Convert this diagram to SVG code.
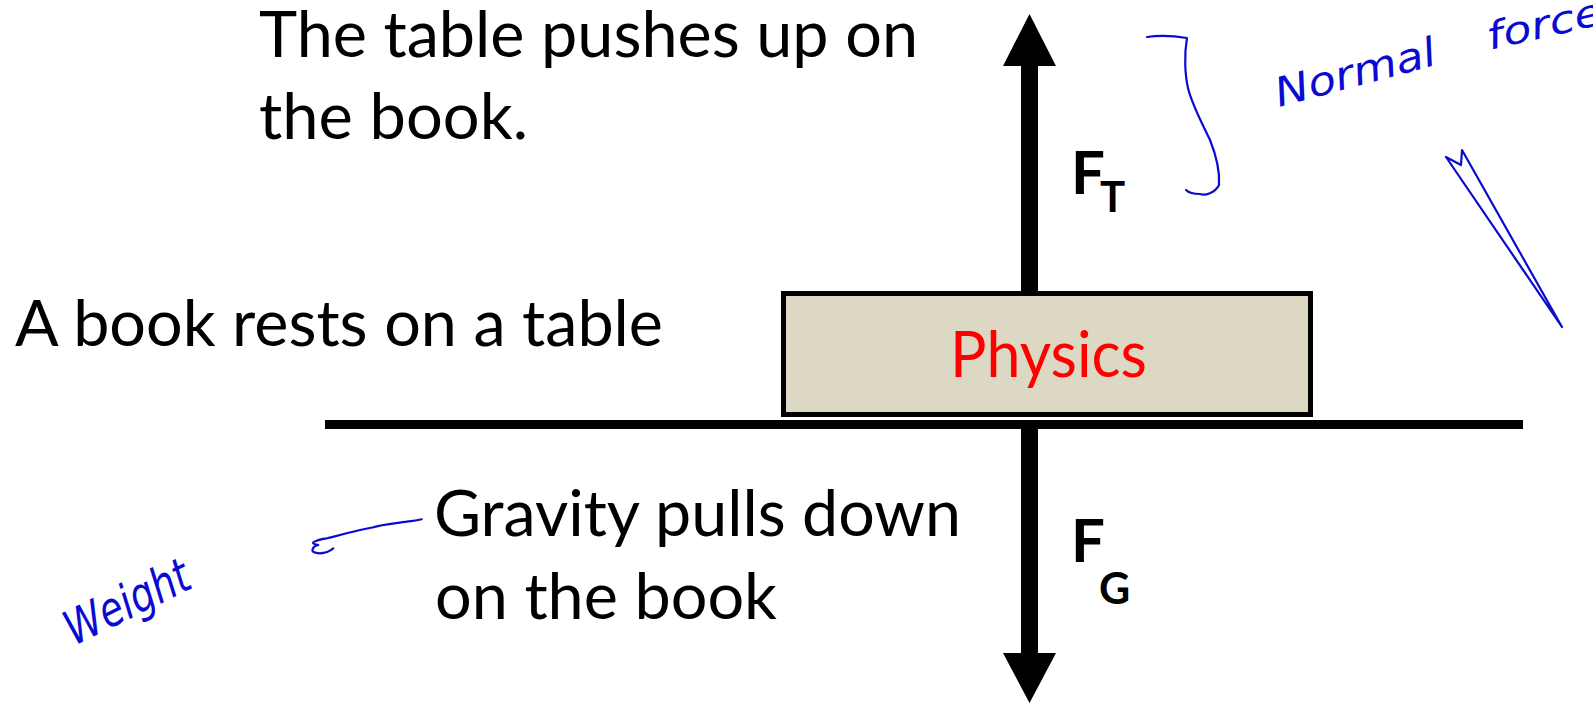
<svg xmlns="http://www.w3.org/2000/svg" width="1593" height="703" viewBox="0 0 1593 703">
  <style>
    .txt { font-family: Lato, "Liberation Sans", sans-serif; font-size: 63px; fill: #000; }
    .lbl { font-family: Lato, "Liberation Sans", sans-serif; font-weight: bold; fill: #000; }
    .hand { font-family: "DejaVu Sans", "Liberation Sans", sans-serif; font-style: italic; fill: #0a0ad2; }
    .ink { fill: none; stroke: #0a0ad2; stroke-width: 2.2; stroke-linecap: round; stroke-linejoin: round; }
    .arrow { fill: #000; }
  </style>
  <rect width="1593" height="703" fill="#fff"/>

  <g id="connectors">
    <polygon id="arrow-up" class="arrow" points="1021,295 1021,66 1003,66 1029.5,14 1056,66 1038,66 1038,295"/>
    <polygon id="arrow-down" class="arrow" points="1021,424 1021,653 1003,653 1029.5,703 1056,653 1038,653 1038,424"/>
  </g>

  <g id="book">
    <rect x="783.5" y="293.5" width="527" height="121" fill="#ddd8c3" stroke="#000" stroke-width="5"/>
    <text x="950" y="377" class="txt" style="fill:#ff0000" font-size="64" textLength="197" lengthAdjust="spacingAndGlyphs">Physics</text>
  </g>

  <g id="table">
    <rect x="325" y="420" width="1198" height="9" fill="#000"/>
  </g>

  <g id="label-top">
    <text x="259" y="57" class="txt" textLength="659" lengthAdjust="spacingAndGlyphs">The table pushes up on</text>
    <text x="259" y="139" class="txt" textLength="269" lengthAdjust="spacingAndGlyphs">the book.</text>
  </g>

  <g id="label-book">
    <text x="15" y="346" class="txt" textLength="648" lengthAdjust="spacingAndGlyphs">A book rests on a table</text>
  </g>

  <g id="label-gravity">
    <text x="434" y="536" class="txt" textLength="527" lengthAdjust="spacingAndGlyphs">Gravity pulls down</text>
    <text x="435" y="619" class="txt" textLength="342" lengthAdjust="spacingAndGlyphs">on the book</text>
  </g>

  <g id="label-ft">
    <text x="1071" y="194" class="lbl" font-size="60">F</text>
    <text x="1100" y="212" class="lbl" font-size="42">T</text>
  </g>

  <g id="label-fg">
    <text x="1071" y="562" class="lbl" font-size="60">F</text>
    <text x="1099" y="604" class="lbl" font-size="43">G</text>
  </g>

  <g id="annot-normal">
    <path class="ink" d="M1147,37 C1160,35 1175,36 1187,38 C1184,55 1185,75 1188,88 C1192,105 1203,125 1210,140 C1216,155 1220,170 1219,185 C1215,193 1205,196 1200,194 C1193,194 1188,192 1186,190"/>
    <text class="hand" font-size="40" transform="translate(1279,107) rotate(-15)" textLength="165" lengthAdjust="spacingAndGlyphs">Normal</text>
    <text class="hand" font-size="38" transform="translate(1490,50) rotate(-13)" textLength="118" lengthAdjust="spacingAndGlyphs">force</text>
    <polygon class="ink" points="1446,157 1461,165 1462,150 1562,327"/>
  </g>

  <g id="annot-weight">
    <path class="ink" d="M421.7,519.3 C415,521 410,521 406.7,521.7 C390,524 380,525 373.3,527.3 C360,530 350,532 340,535 C333,537 328,538 326.7,538.3 C322,539 318,540 316.7,540.7 C312,542 311,544 318.3,545 C314,546 313,548 313.3,548.3 C311,551 313,553 320,553.3 C326,553 330,551 333.3,548.3"/>
    <text class="hand" font-size="48" transform="translate(74,646) rotate(-26)" textLength="134" lengthAdjust="spacingAndGlyphs">Weight</text>
  </g>
</svg>
